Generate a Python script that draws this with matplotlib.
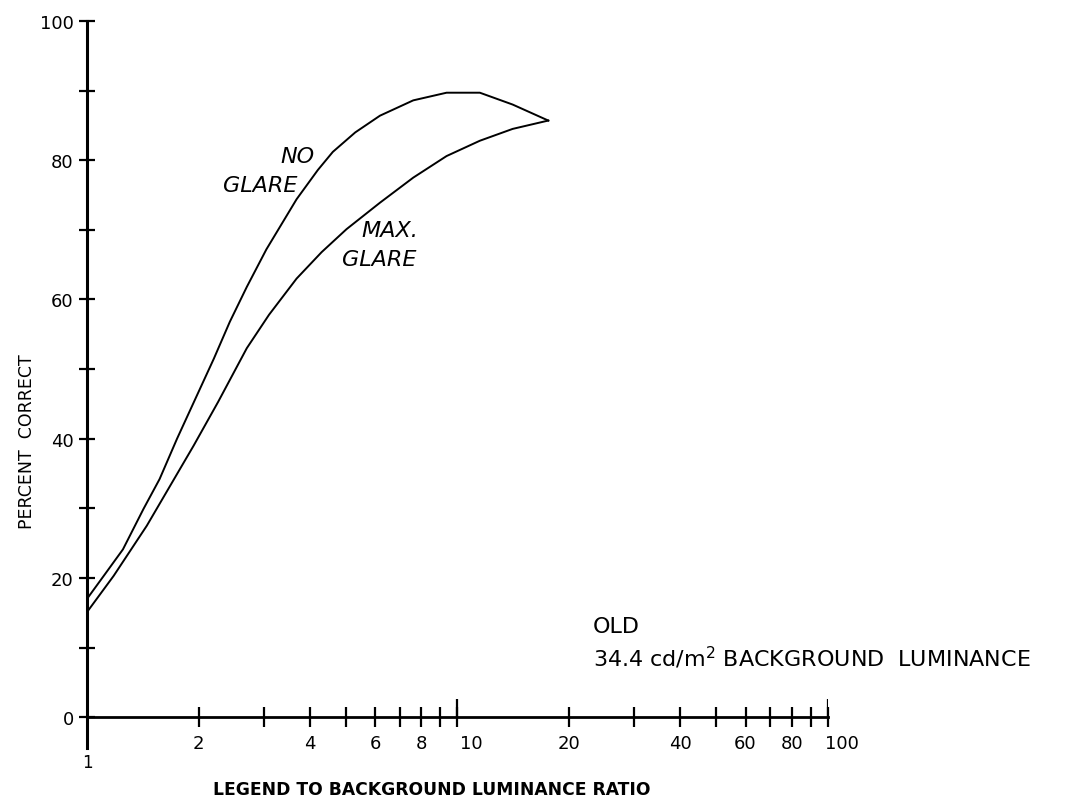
import matplotlib
matplotlib.use("Agg")
import matplotlib.pyplot as plt
from matplotlib.ticker import FixedLocator, NullFormatter
from matplotlib.transforms import ScaledTranslation

# values
no_glare_x = [1.0, 1.12, 1.25, 1.42, 1.57, 1.75, 1.96, 2.2, 2.43, 2.7, 3.05, 3.68,
              4.2, 4.61, 5.3, 6.18, 7.6, 9.35, 11.5, 14.1, 17.6]
no_glare_y = [17.0, 20.6, 24.1, 29.9, 34.2, 40.0, 45.7, 51.5, 56.8, 61.8, 67.2, 74.4,
              78.6, 81.2, 84.0, 86.4, 88.6, 89.7, 89.7, 88.0, 85.7]

max_glare_x = [1.0, 1.18, 1.45, 1.78, 1.94, 2.26, 2.7, 3.1, 3.68, 4.3, 5.02, 6.18,
               7.6, 9.35, 11.5, 14.1, 17.6]
max_glare_y = [15.1, 20.3, 27.5, 35.6, 39.0, 45.3, 53.0, 57.8, 63.0, 66.8, 70.1, 73.9,
               77.5, 80.6, 82.8, 84.5, 85.7]

x_major = [2, 4, 6, 8, 10, 20, 40, 60, 80, 100]
x_minor = [3, 5, 7, 9, 30, 50, 70, 90]
y_major = [0, 20, 40, 60, 80, 100]
y_minor = [10, 30, 50, 70, 90]

plt.rcParams['font.family'] = ['DejaVu Sans']

fig = plt.figure(figsize=(10.68, 8.03), dpi=100)
ax = fig.add_axes([0.0815, 0.0623, 0.6935, 0.9103])

ax.plot(no_glare_x, no_glare_y, color='black', lw=1.4, solid_joinstyle='round')
ax.plot(max_glare_x, max_glare_y, color='black', lw=1.4, solid_joinstyle='round')

ax.set_xscale('log')
ax.set_xlim(1, 100)
ax.set_ylim(-5, 100)

for s in ['top', 'right']:
    ax.spines[s].set_visible(False)
ax.spines['bottom'].set_position(('data', 0))
ax.spines['left'].set_bounds(-4.5, 100)
ax.spines['left'].set_linewidth(2.2)
ax.spines['bottom'].set_linewidth(2)

ax.xaxis.set_major_locator(FixedLocator(x_major))
ax.xaxis.set_minor_locator(FixedLocator(x_minor))
ax.xaxis.set_minor_formatter(NullFormatter())
ax.set_xticklabels([str(v) for v in x_major])
ax.yaxis.set_major_locator(FixedLocator(y_major))
ax.yaxis.set_minor_locator(FixedLocator(y_minor))
ax.set_yticklabels([str(v) for v in y_major])

ax.tick_params(which='both', direction='inout', length=14, width=1.6, labelsize=13)
ax.tick_params(axis='x', which='major', pad=5)
ax.tick_params(axis='y', which='both', length=11, pad=4)
ax.vlines([10, 100], 0, 2.6, color='black', lw=1.6)

# hand-lettered 10 and 100 sit a little right of their ticks
for lab in ax.get_xticklabels():
    if lab.get_text() in ('10', '100'):
        lab.set_transform(lab.get_transform() + ScaledTranslation(14 / 100, 0, fig.dpi_scale_trans))

# the "1" below the origin
ax.text(1, -6.5, '1', ha='center', va='center', fontsize=12)

ax.text(4.12, 80.6, 'NO', ha='right', va='center', fontsize=16, style='italic')
ax.text(3.69, 76.4, 'GLARE', ha='right', va='center', fontsize=16, style='italic')
ax.text(5.52, 70.0, 'MAX.', ha='left', va='center', fontsize=16, style='italic')
ax.text(4.88, 65.8, 'GLARE', ha='left', va='center', fontsize=16, style='italic')

fig.text(593 / 1068, 1 - 627 / 803, 'OLD', ha='left', va='center', fontsize=16)
fig.text(593 / 1068, 1 - 658 / 803, '34.4 cd/m$^2$ BACKGROUND  LUMINANCE',
         ha='left', va='center', fontsize=16)

fig.text(27 / 1068, 1 - 442 / 803, 'PERCENT  CORRECT', rotation=90,
         ha='center', va='center', fontsize=12.5)
fig.text(432 / 1068, 1 - 790 / 803, 'LEGEND TO BACKGROUND LUMINANCE RATIO',
         ha='center', va='center', fontsize=12.3, fontweight='bold')

fig.savefig('out.png', dpi=100)
